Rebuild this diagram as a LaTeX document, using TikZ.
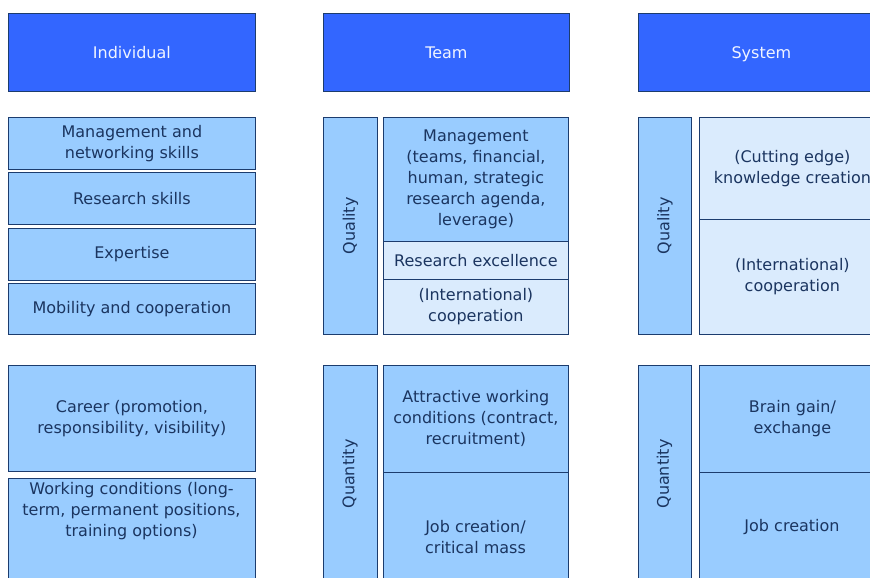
\documentclass[tikz,border=0pt]{standalone}
\usepackage{fontspec}
\setmainfont{DejaVu Sans}
\definecolor{hdrfill}{HTML}{3366FF}
\definecolor{bordc}{HTML}{1C3C6E}
\definecolor{lightb}{HTML}{99CCFF}
\definecolor{paleb}{HTML}{DAEBFD}
\definecolor{txtc}{HTML}{1B3560}
\definecolor{hdrtxt}{HTML}{F0F4FF}
\tikzset{
  cell/.style={draw=bordc, line width=0.8pt, fill=lightb, anchor=north west, inner sep=0pt, text=txtc, align=center, font=\fontsize{16}{21}\selectfont},
  palecell/.style={cell, fill=paleb},
  hdr/.style={cell, fill=hdrfill, text=hdrtxt, text height=14pt, text depth=2pt},
  txt/.style={text=txtc, align=center, inner sep=0pt, font=\fontsize{16}{21}\selectfont},
  vtxt/.style={txt, rotate=90},
  wh/.style 2 args={minimum width=#1pt, minimum height=#2pt}
}
\begin{document}
\begin{tikzpicture}[x=1pt,y=-1pt]
\clip (0,0) rectangle (870,578);
\fill[white] (0,0) rectangle (870,578);
% headers
\node[hdr, wh={247}{78}] (hInd) at (8,13) {Individual};
\node[hdr, wh={246}{78}] (hTeam) at (323,13) {Team};
\node[hdr, wh={246}{78}] (hSys) at (638,13) {System};
% Individual quality
\node[cell, wh={247}{52}] (i1) at (8,117) {Management and\\networking skills};
\node[cell, wh={247}{52}] (i2) at (8,172) {Research skills};
\node[cell, wh={247}{52}] (i3) at (8,228) {Expertise};
\node[cell, wh={247}{51}] (i4) at (8,283) {Mobility and cooperation};
% Individual quantity
\node[cell, wh={247}{106}] (i5) at (8,365) {Career (promotion,\\responsibility, visibility)};
\node[cell, wh={247}{110}] (i6) at (8,478) {};
\node[txt] (i6t) at (131.5,511) {Working conditions (long-\\term, permanent positions,\\training options)};
% Team quality
\node[cell, wh={54}{217}] (tq) at (323,117) {};
\node[vtxt] (tqt) at (tq.center) {Quality};
\node[cell, wh={185}{124}] (t1) at (383,117) {Management\\(teams, financial,\\human, strategic\\research agenda,\\leverage)};
\node[palecell, wh={185}{38}] (t2) at (383,241) {Research excellence};
\node[palecell, wh={185}{55}] (t3) at (383,279) {(International)\\cooperation};
% Team quantity
\node[cell, wh={54}{230}] (tn) at (323,365) {};
\node[vtxt] (tnt) at (350,474) {Quantity};
\node[cell, wh={185}{107}] (t4) at (383,365) {Attractive working\\conditions (contract,\\recruitment)};
\node[cell, wh={185}{130}] (t5) at (383,472) {};
\node[txt] (t5t) at (475.5,537) {Job creation/\\critical mass};
% System quality
\node[cell, wh={53}{217}] (sq) at (638,117) {};
\node[vtxt] (sqt) at (sq.center) {Quality};
\node[palecell, wh={186}{102}] (s1) at (699,117) {(Cutting edge)\\knowledge creation};
\node[palecell, wh={186}{115}] (s2) at (699,219) {(International)\\cooperation};
% System quantity
\node[cell, wh={53}{230}] (sn) at (638,365) {};
\node[vtxt] (snt) at (664.5,474) {Quantity};
\node[cell, wh={186}{107}] (s3) at (699,365) {Brain gain/\\exchange};
\node[cell, wh={186}{130}] (s4) at (699,472) {};
\node[txt] (s4t) at (792,527) {Job creation};
\end{tikzpicture}
\end{document}
